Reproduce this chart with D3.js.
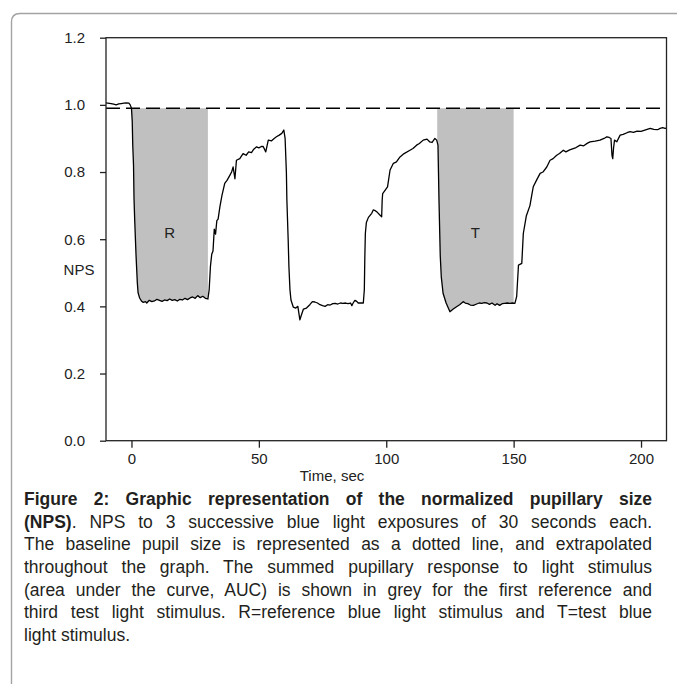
<!DOCTYPE html>
<html>
<head>
<meta charset="utf-8">
<script src="https://cdn.jsdelivr.net/npm/d3@7"></script>
<style>
  html, body { margin: 0; padding: 0; background: #fff; }
  #wrap { position: relative; width: 677px; height: 684px; overflow: hidden; }
  svg { position: absolute; left: 0; top: 0; }
  #caption { position: absolute; left: 24px; top: 488px; width: 628px;
    font-family: "Liberation Sans", Arial, sans-serif; font-size: 17.5px; color: #231f20; }
  #caption .ln { height: 22.7px; line-height: 22.7px; white-space: nowrap;
    text-align: justify; text-align-last: justify; }
  #caption .ln.last { text-align: left; text-align-last: left; }
</style>
</head>
<body>
<div id="wrap">
  <svg id="chart" width="677" height="684"></svg>
  <div id="caption"></div>
</div>
<script>
// ---- data ----
const time = [
  -10, -8, -7, -6, -5, -4, -3, -2, -1, -0.5,
  0, 0.3, 0.5, 0.8, 1.0, 1.3, 1.8, 2.3, 2.6, 3.2, 4.0, 4.6, 5.5, 6, 7, 8, 9, 10, 11, 12, 13, 14, 15, 16, 17, 18, 19, 20, 21, 22, 23, 24, 25, 26, 27, 28, 29, 30,
  30.5, 31, 31.5, 32, 32.5, 33, 33.5, 34, 34.7, 35.5, 36.6, 37.5, 38.6, 39.3, 39.9, 40.6, 41.2, 42.5, 43.8, 45, 46, 47.1, 48, 49.1, 50, 51, 51.7, 52.7, 53.7, 55, 56, 56.9, 58, 59, 59.8,
  60.3, 60.8, 61.0, 61.5, 61.8, 62.2, 62.6, 63.5, 64.5, 65.3, 66.1, 66.6, 67.5, 68.7, 70, 71, 72, 73, 74, 75, 76, 77, 78, 79, 80, 81, 82, 83, 84, 85, 86, 86.5, 87, 87.7, 88.4, 89, 90, 91,
  91.4, 91.6, 91.8, 92.2, 93, 94.3, 94.9, 95.7, 96.5, 97.5, 98.2, 98.4, 98.6, 100.5, 101.5, 102.8, 104, 105.4, 107, 109.3, 110.5, 111.9, 113, 114.5, 116, 117, 118, 119.1, 119.8, 120.3,
  120.5, 120.7, 121.2, 121.6, 122.3, 123.5, 125, 126.3, 127.6, 128.8, 130.2, 131, 132, 133, 134.2, 135.5, 136.5, 137.5, 138.5, 139.5, 140.5, 141.5, 142.7, 143.5, 144.5, 145.5, 146.5, 147.5, 148.5, 149.5, 150.5,
  151.2, 151.9, 153.2, 153.8, 155, 156.4, 157.2, 157.7, 159, 160.4, 161.5, 163, 164.3, 165.5, 166.9, 168, 169.5, 170.5, 172, 173.4, 174.5, 176.1, 177.5, 179, 180, 182, 183.9, 185.5, 186.6, 187.5, 188.2, 188.6, 188.9, 189.2, 189.6, 190.5, 191.8, 193, 194.5, 195.7, 197, 198.5, 200, 201.5, 203.6, 205, 206.5, 207.5, 208.5, 209.4, 210
];
const nps = [
  1.006, 1.004, 1.002, 1.000, 1.003, 1.004, 1.005, 1.006, 1.005, 1.000,
  0.990, 0.95, 0.88, 0.82, 0.72, 0.65, 0.55, 0.47, 0.44, 0.425, 0.415, 0.412, 0.414, 0.410, 0.418, 0.414, 0.416, 0.421, 0.418, 0.415, 0.419, 0.417, 0.422, 0.418, 0.420, 0.416, 0.421, 0.419, 0.424, 0.420, 0.425, 0.428, 0.424, 0.432, 0.426, 0.430, 0.424, 0.422,
  0.45, 0.52, 0.555, 0.565, 0.63, 0.615, 0.655, 0.66, 0.696, 0.73, 0.766, 0.775, 0.79, 0.80, 0.815, 0.78, 0.835, 0.84, 0.855, 0.85, 0.86, 0.858, 0.868, 0.875, 0.872, 0.876, 0.876, 0.86, 0.895, 0.893, 0.9, 0.905, 0.91, 0.915, 0.925,
  0.90, 0.80, 0.716, 0.60, 0.518, 0.45, 0.419, 0.398, 0.395, 0.40, 0.36, 0.372, 0.392, 0.395, 0.405, 0.414, 0.413, 0.41, 0.405, 0.402, 0.40, 0.405, 0.404, 0.408, 0.409, 0.407, 0.41, 0.409, 0.41, 0.408, 0.41, 0.402, 0.41, 0.418, 0.415, 0.41, 0.41, 0.41,
  0.45, 0.55, 0.617, 0.65, 0.665, 0.677, 0.687, 0.685, 0.68, 0.672, 0.667, 0.716, 0.736, 0.756, 0.806, 0.826, 0.83, 0.845, 0.855, 0.865, 0.87, 0.88, 0.885, 0.895, 0.898, 0.89, 0.888, 0.9, 0.895, 0.88,
  0.80, 0.716, 0.55, 0.488, 0.439, 0.41, 0.384, 0.392, 0.399, 0.405, 0.414, 0.41, 0.408, 0.404, 0.403, 0.407, 0.41, 0.409, 0.411, 0.41, 0.406, 0.41, 0.403, 0.408, 0.403, 0.408, 0.409, 0.41, 0.409, 0.41, 0.409,
  0.43, 0.523, 0.528, 0.617, 0.67, 0.70, 0.735, 0.756, 0.776, 0.796, 0.80, 0.815, 0.835, 0.84, 0.85, 0.855, 0.865, 0.86, 0.866, 0.87, 0.873, 0.88, 0.878, 0.886, 0.89, 0.892, 0.895, 0.9, 0.905, 0.903, 0.9, 0.85, 0.84, 0.87, 0.895, 0.89, 0.91, 0.912, 0.917, 0.92, 0.918, 0.922, 0.921, 0.925, 0.93, 0.927, 0.926, 0.93, 0.932, 0.93, 0.931
];
const baselineNPS = 0.99;
const stimulusStart = [0, 120];
const stimulusEnd = [30, 150];
const stimulusLabels = ["R", "T"];
const xTicks = [0, 50, 100, 150, 200];
const yTicks = [0, 0.2, 0.4, 0.6, 0.8, 1.0, 1.2];
const xLabel = "Time, sec";
const yLabel = "NPS";
const captionLines = [
  [["b", "Figure 2: Graphic representation of the normalized pupillary size"]],
  [["b", "(NPS)"], ["n", ". NPS to 3 successive blue light exposures of 30 seconds each."]],
  [["n", "The baseline pupil size is represented as a dotted line, and extrapolated"]],
  [["n", "throughout the graph. The summed pupillary response to light stimulus"]],
  [["n", "(area under the curve, AUC) is shown in grey for the first reference and"]],
  [["n", "third test light stimulus. R=reference blue light stimulus and T=test blue"]],
  [["n", "light stimulus."]]
];

// ---- drawing ----
const svg = d3.select("#chart");
const FONT = "'Liberation Sans', Arial, sans-serif";
const data = time.map((t, i) => ({ t, v: nps[i] }));

const x = d3.scaleLinear().domain([-10, 210]).range([106, 666.5]);
const y = d3.scaleLinear().domain([0, 1.2]).range([440.7, 37.7]);

// outer page border (rounded corner)
svg.append("path")
  .attr("d", "M11.5,690 V22 Q11.5,13.5 20,13.5 H690")
  .attr("fill", "none").attr("stroke", "#a3a3a3").attr("stroke-width", 1.4);

// clip for shaded stimulus windows
const defs = svg.append("defs");
const clip = defs.append("clipPath").attr("id", "stimClip");
stimulusStart.forEach((s, i) => {
  clip.append("rect")
    .attr("x", x(s)).attr("y", y(1.2))
    .attr("width", x(stimulusEnd[i]) - x(s))
    .attr("height", y(0) - y(1.2));
});

const area = d3.area()
  .x(d => x(d.t))
  .y0(y(baselineNPS))
  .y1(d => y(Math.min(d.v, baselineNPS)));

svg.append("path")
  .datum(data)
  .attr("clip-path", "url(#stimClip)")
  .attr("d", area)
  .attr("fill", "#c0c0c0");

// stimulus labels
stimulusLabels.forEach((lab, i) => {
  svg.append("text")
    .attr("x", x((stimulusStart[i] + stimulusEnd[i]) / 2))
    .attr("y", y(0.62))
    .attr("dy", "0.35em")
    .attr("text-anchor", "middle")
    .attr("font-family", FONT).attr("font-size", 15)
    .attr("fill", "#222")
    .text(lab);
});

// dashed baseline
svg.append("line")
  .attr("x1", x(-10)).attr("x2", x(210))
  .attr("y1", y(baselineNPS)).attr("y2", y(baselineNPS))
  .attr("stroke", "#000").attr("stroke-width", 1.4)
  .attr("stroke-dasharray", "14,6");

// curve
svg.append("path")
  .datum(data)
  .attr("d", d3.line().x(d => x(d.t)).y(d => y(d.v)))
  .attr("fill", "none").attr("stroke", "#000")
  .attr("stroke-width", 1.3).attr("stroke-linejoin", "round");

// axes
const yAxis = d3.axisLeft(y).tickValues(yTicks).tickFormat(d3.format(".1f"))
  .tickSize(6).tickSizeOuter(0).tickPadding(15);
const gy = svg.append("g").attr("transform", `translate(${x(-10)},0)`).call(yAxis);
const xAxis = d3.axisBottom(x).tickValues(xTicks).tickFormat(d3.format("d"))
  .tickSize(7).tickSizeOuter(0).tickPadding(6);
const gx = svg.append("g").attr("transform", `translate(0,${y(0)})`).call(xAxis);
[gx, gy].forEach(g => {
  g.select(".domain").remove();
  g.selectAll("line").attr("stroke", "#222").attr("stroke-width", 1.3);
  g.selectAll("text").attr("font-family", FONT).attr("font-size", 15).attr("fill", "#222");
});

// frame
svg.append("rect")
  .attr("x", x(-10)).attr("y", y(1.2))
  .attr("width", x(210) - x(-10)).attr("height", y(0) - y(1.2))
  .attr("fill", "none").attr("stroke", "#222").attr("stroke-width", 1.3);

// axis titles
svg.append("text")
  .attr("x", 79).attr("y", y(0.51)).attr("dy", "0.35em")
  .attr("text-anchor", "middle")
  .attr("font-family", FONT).attr("font-size", 15).attr("fill", "#222")
  .text(yLabel);
svg.append("text")
  .attr("x", 332).attr("y", 476).attr("dy", "0.35em")
  .attr("text-anchor", "middle")
  .attr("font-family", FONT).attr("font-size", 15).attr("fill", "#222")
  .text(xLabel);

// caption
const cap = d3.select("#caption");
captionLines.forEach((parts, i) => {
  const ln = cap.append("div").attr("class", "ln" + (i === captionLines.length - 1 ? " last" : ""));
  parts.forEach(([kind, txt]) => {
    ln.append("span").style("font-weight", kind === "b" ? "bold" : "normal").text(txt);
  });
});
</script>
</body>
</html>
